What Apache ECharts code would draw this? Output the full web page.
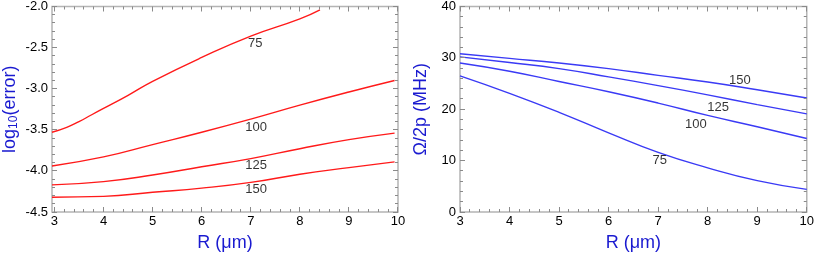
<!DOCTYPE html>
<html>
<head>
<meta charset="utf-8">
<script src="https://cdn.jsdelivr.net/npm/echarts@6/dist/echarts.min.js"></script>
<style>
  html, body { margin: 0; padding: 0; background: #fff; }
  #chart { width: 817px; height: 257px; }
</style>
</head>
<body>
<div id="chart"></div>
<script>
// left panel: log10(error) vs R
const errR = [2.95, 4, 5, 6, 7, 8, 9, 9.93];
const err75R = [2.95, 3.25, 3.5, 3.75, 4, 4.5, 5, 6, 7, 8, 8.41];
const err75 = [-3.53, -3.47, -3.40, -3.32, -3.24, -3.08, -2.91, -2.62, -2.36, -2.15, -2.04];
const err100 = [-3.94, -3.83, -3.68, -3.53, -3.37, -3.20, -3.04, -2.90];
const err125 = [-4.17, -4.13, -4.05, -3.95, -3.85, -3.73, -3.62, -3.54];
const err150 = [-4.32, -4.31, -4.26, -4.21, -4.14, -4.04, -3.96, -3.89];
const errLabels = [['75', 7.09, -2.45], ['100', 7.11, -3.47], ['125', 7.11, -3.93], ['150', 7.11, -4.22]];

// right panel: Omega/2p vs R
const freqR = [3, 4, 5, 6, 7, 8, 9, 10];
const freq150 = [30.8, 29.9, 29.0, 27.9, 26.6, 25.3, 23.8, 22.2];
const freq125 = [30.2, 29.1, 27.9, 26.3, 24.6, 22.8, 20.9, 19.1];
const freq100 = [29.0, 27.4, 25.4, 23.4, 21.2, 18.8, 16.6, 14.3];
const freq75 = [26.5, 23.1, 19.4, 15.4, 11.6, 8.6, 6.1, 4.4];
const freqLabels = [['150', 8.65, 25.7], ['125', 8.21, 20.4], ['100', 7.76, 17.0], ['75', 7.03, 10.0]];

// tick values
const rTicks = [3, 4, 5, 6, 7, 8, 9, 10];
const errTicks = [-4.5, -4.0, -3.5, -3.0, -2.5, -2.0];
const freqTicks = [0, 10, 20, 30, 40];

function minors(major) {
  const out = [];
  for (let i = 0; i < major.length - 1; i++) {
    const step = (major[i + 1] - major[i]) / 5;
    for (let k = 1; k < 5; k++) out.push(+(major[i] + k * step).toFixed(4));
  }
  return out;
}

const font = 'Liberation Sans, Arial, sans-serif';
const gray = '#b4b4b4';
const tickGray = '#8a8a8a';
const nameBlue = '#1a1ad0';
const red = '#ff1a1a';
const blue = '#3a3af5';

const chart = echarts.init(document.getElementById('chart'));

function zip(xs, ys) { return ys.map((y, i) => [xs[i], y]); }
function crisp(p) { return Math.round(p - 0.5) + 0.5; }

const tickLabel = { show: true, color: '#000', fontSize: 13, fontFamily: font };
const nameStyle = { color: nameBlue, fontSize: 18, fontFamily: font };

function baseAxis(grid, min, max, extra) {
  return Object.assign({
    type: 'value', gridIndex: grid, min: min, max: max,
    axisLine: { show: false }, axisTick: { show: false },
    splitLine: { show: false }
  }, extra);
}

function curve(xi, yi, data, color) {
  return {
    type: 'line', xAxisIndex: xi, yAxisIndex: yi, data: data, smooth: 0.5,
    symbol: 'none', lineStyle: { color: color, width: 1.4 }, silent: true, z: 3
  };
}

function labels(xi, yi, items) {
  return {
    type: 'scatter', xAxisIndex: xi, yAxisIndex: yi, symbolSize: 0, silent: true, z: 4,
    data: items.map(d => ({ value: [d[1], d[2]], name: d[0] })),
    label: { show: true, position: 'inside', formatter: p => p.name,
      color: '#000', fontSize: 13, fontFamily: font }
  };
}

chart.setOption({
  animation: false,
  backgroundColor: '#fff',
  grid: [
    { left: 49, top: 6, width: 349, height: 216.5, show: true, borderColor: gray, borderWidth: 1.5 },
    { left: 460, top: 6, width: 349.5, height: 216.5, show: true, borderColor: gray, borderWidth: 1.5 }
  ],
  xAxis: [
    baseAxis(0, 2.95, 10, {
      axisLabel: Object.assign({ customValues: rTicks, margin: 3 }, tickLabel),
      name: 'R (μm)', nameLocation: 'middle', nameGap: 22, nameTextStyle: nameStyle }),
    baseAxis(1, 3, 10, { interval: 1,
      axisLabel: Object.assign({ margin: 3 }, tickLabel),
      name: 'R (μm)', nameLocation: 'middle', nameGap: 22, nameTextStyle: nameStyle })
  ],
  yAxis: [
    baseAxis(0, -4.5, -2.0, { interval: 0.5,
      axisLabel: Object.assign({ margin: 4, formatter: v => v.toFixed(1) }, tickLabel),
      name: '{n|log}{s|10}{n|(error)}', nameLocation: 'middle', nameGap: 32, nameRotate: 90,
      nameTextStyle: { rich: {
        n: { color: nameBlue, fontSize: 18, fontFamily: font },
        s: { color: nameBlue, fontSize: 12, fontFamily: font, verticalAlign: 'bottom', padding: [8, 0, 0, 0] }
      } } }),
    baseAxis(1, 0, 40, { interval: 10,
      axisLabel: Object.assign({ margin: 4 }, tickLabel),
      name: 'Ω/2p (MHz)', nameLocation: 'middle', nameGap: 30, nameRotate: 90,
      nameTextStyle: nameStyle })
  ],
  series: [
    curve(0, 0, zip(err75R, err75), red),
    curve(0, 0, zip(errR, err100), red),
    curve(0, 0, zip(errR, err125), red),
    curve(0, 0, zip(errR, err150), red),
    labels(0, 0, errLabels),
    curve(1, 1, zip(freqR, freq150), blue),
    curve(1, 1, zip(freqR, freq125), blue),
    curve(1, 1, zip(freqR, freq100), blue),
    curve(1, 1, zip(freqR, freq75), blue),
    labels(1, 1, freqLabels)
  ]
});

// inward tick marks on all four sides, positioned through the axes' scales
function tickMarks(idx, xr, yr, xMaj, yMaj) {
  const els = [];
  const px = p => chart.convertToPixel({ xAxisIndex: idx, yAxisIndex: idx }, p);
  const add = (x1, y1, x2, y2) => els.push({
    type: 'line', silent: true, z: 50,
    shape: { x1: x1, y1: y1, x2: x2, y2: y2 },
    style: { stroke: tickGray, lineWidth: 1 }
  });
  const xt = xMaj.map(v => [v, 5]).concat(minors(xMaj).map(v => [v, 3]));
  const yt = yMaj.map(v => [v, 5]).concat(minors(yMaj).map(v => [v, 3]));
  xt.forEach(([v, len]) => {
    const a = px([v, yr[0]]), b = px([v, yr[1]]);
    const x = crisp(a[0]);
    add(x, a[1], x, a[1] - len);
    add(x, b[1], x, b[1] + len);
  });
  yt.forEach(([v, len]) => {
    const a = px([xr[0], v]), b = px([xr[1], v]);
    const y = crisp(a[1]);
    add(a[0], y, a[0] + len, y);
    add(b[0], y, b[0] - len, y);
  });
  return els;
}

chart.setOption({
  graphic: { elements: tickMarks(0, [2.95, 10], [-4.5, -2.0], rTicks, errTicks)
    .concat(tickMarks(1, [3, 10], [0, 40], rTicks, freqTicks)) }
});
</script>
</body>
</html>
